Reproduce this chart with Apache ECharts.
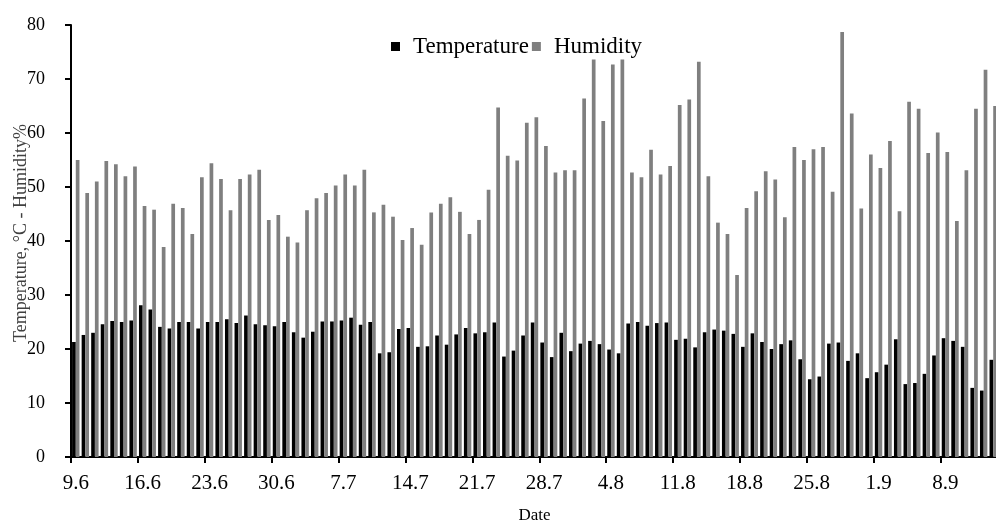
<!DOCTYPE html>
<html>
<head>
<meta charset="utf-8">
<script src="https://cdn.jsdelivr.net/npm/echarts@6/dist/echarts.min.js"></script>
<style>
html,body{margin:0;padding:0;background:#fff;overflow:hidden;}
#chart{width:996px;height:525px;}
</style>
</head>
<body>
<div id="chart"></div>
<script>
var dates = [
  '9.6','10.6','11.6','12.6','13.6','14.6','15.6','16.6','17.6','18.6','19.6','20.6','21.6','22.6','23.6','24.6','25.6','26.6','27.6','28.6','29.6','30.6',
  '1.7','2.7','3.7','4.7','5.7','6.7','7.7','8.7','9.7','10.7','11.7','12.7','13.7','14.7','15.7','16.7','17.7','18.7','19.7','20.7','21.7','22.7','23.7','24.7','25.7','26.7','27.7','28.7','29.7','30.7','31.7',
  '1.8','2.8','3.8','4.8','5.8','6.8','7.8','8.8','9.8','10.8','11.8','12.8','13.8','14.8','15.8','16.8','17.8','18.8','19.8','20.8','21.8','22.8','23.8','24.8','25.8','26.8','27.8','28.8','29.8','30.8','31.8',
  '1.9','2.9','3.9','4.9','5.9','6.9','7.9','8.9','9.9','10.9','11.9','12.9','13.9'
];
var temperature = [
  21.3,22.6,23.0,24.6,25.2,25.0,25.3,28.1,27.3,24.1,23.8,25.0,25.0,23.8,25.0,25.0,
  25.5,24.8,26.2,24.6,24.4,24.2,25.0,23.1,22.1,23.2,25.1,25.1,25.3,25.8,24.5,25.0,
  19.2,19.4,23.7,23.9,20.4,20.5,22.5,20.8,22.7,23.9,22.9,23.1,24.9,18.6,19.7,22.5,
  24.9,21.2,18.5,23.0,19.6,21.0,21.5,20.9,19.9,19.2,24.7,25.0,24.3,24.8,24.9,
  21.7,21.9,20.3,23.1,23.6,23.4,22.8,20.4,22.9,21.3,20.0,20.9,21.6,18.1,14.4,14.9,
  21.0,21.2,17.8,19.2,14.6,15.7,17.1,21.8,13.5,13.7,15.4,18.8,22.0,21.5,20.4,12.8,12.3,18.0
];
var humidity = [
  55.0,48.9,51.0,54.8,54.2,52.0,53.8,46.5,45.8,38.9,46.9,46.1,41.3,51.8,54.4,51.5,
  45.7,51.5,52.3,53.2,43.9,44.8,40.8,39.7,45.7,47.9,48.9,50.3,52.3,50.3,53.2,45.3,
  46.7,44.5,40.2,42.4,39.3,45.3,46.9,48.1,45.4,41.3,43.9,49.5,64.7,55.8,54.9,61.9,
  62.9,57.6,52.7,53.1,53.1,66.4,73.6,62.2,72.7,73.6,52.7,51.8,56.9,52.3,53.9,
  65.2,66.2,73.2,52.0,43.4,41.3,33.7,46.1,49.2,52.9,51.4,44.4,57.4,55.0,57.0,57.4,
  49.1,78.7,63.6,46.0,56.0,53.5,58.5,45.5,65.8,64.5,56.3,60.1,56.5,43.7,53.1,64.5,71.7,65.0
];
var yTicks = {min: 0, max: 80, step: 10};

var font = 'Liberation Serif';
var chart = echarts.init(document.getElementById('chart'), null, {renderer: 'canvas'});
chart.setOption({
  animation: false,
  backgroundColor: '#fff',
  textStyle: {fontFamily: font, color: '#000'},
  legend: {
    data: ['Temperature', 'Humidity'],
    top: 30,
    left: 386,
    itemWidth: 9,
    itemHeight: 9,
    itemGap: 3,
    icon: 'rect',
    textStyle: {fontFamily: font, fontSize: 23, color: '#000', padding: [0, 0, 0, 8]}
  },
  grid: {left: 71, top: 25, width: 927, height: 432, containLabel: false, outerBoundsMode: 'none'},
  xAxis: {
    type: 'category',
    data: dates,
    boundaryGap: true,
    name: 'Date',
    nameLocation: 'middle',
    nameGap: 50,
    nameMoveOverlap: false,
    nameTextStyle: {fontFamily: font, fontSize: 17, color: '#000'},
    axisLine: {lineStyle: {color: '#000', width: 2}},
    axisTick: {show: true, interval: 6, length: 6, lineStyle: {color: '#000', width: 2}},
    axisLabel: {interval: 6, fontFamily: font, fontSize: 21, color: '#000', margin: 16},
    splitLine: {show: false}
  },
  yAxis: {
    type: 'value',
    min: yTicks.min,
    max: yTicks.max,
    interval: yTicks.step,
    name: 'Temperature, \u00B0C - Humidity%',
    nameLocation: 'middle',
    nameGap: 41,
    nameMoveOverlap: false,
    nameTextStyle: {fontFamily: font, fontSize: 18, color: '#404040', padding: [0, 0, 0, 16]},
    axisLine: {show: true, lineStyle: {color: '#000', width: 2}},
    axisTick: {show: true, length: 6, lineStyle: {color: '#000', width: 2}},
    axisLabel: {fontFamily: font, fontSize: 18, color: '#000', margin: 26},
    splitLine: {show: false}
  },
  series: [
    {name: 'Temperature', type: 'bar', data: temperature, barWidth: 3.7, barGap: '0%', itemStyle: {color: '#000'}},
    {name: 'Humidity', type: 'bar', data: humidity, barWidth: 3.7, barGap: '0%', itemStyle: {color: '#7f7f7f'}}
  ]
});
</script>
</body>
</html>
